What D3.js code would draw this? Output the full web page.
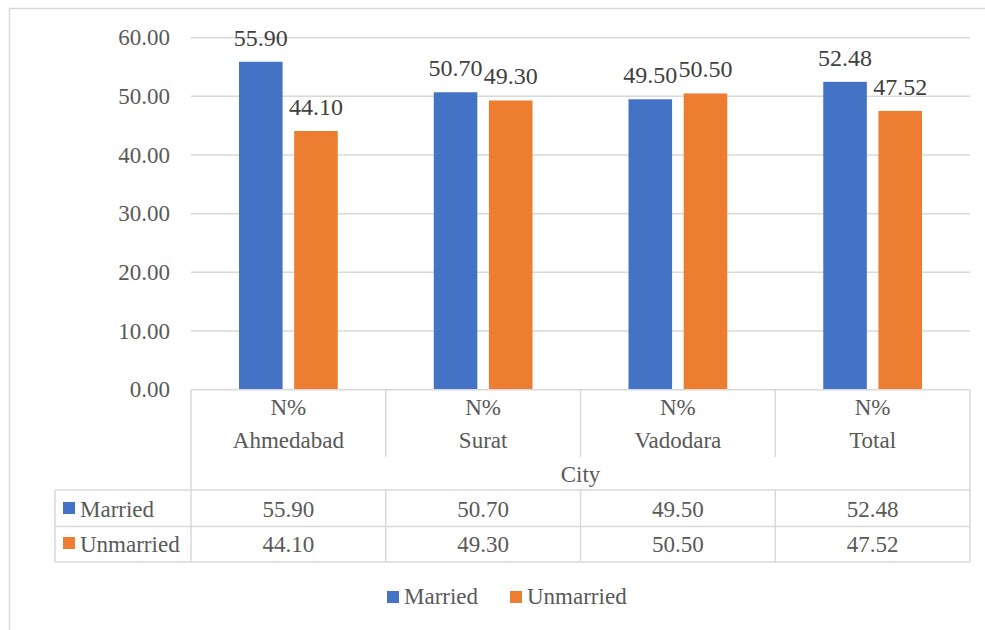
<!DOCTYPE html>
<html><head><meta charset="utf-8"><script src="https://cdn.jsdelivr.net/npm/d3@7"></script></head>
<body style="margin:0">
<script>
// chart data
const cities = ["Ahmedabad", "Surat", "Vadodara", "Total"];
const headerTop = "N%";
const axisTitle = "City";
const seriesNames = ["Married", "Unmarried"];
const married = [55.90, 50.70, 49.50, 52.48];
const unmarried = [44.10, 49.30, 50.50, 47.52];
const yTicks = [0, 10, 20, 30, 40, 50, 60];
const colors = ["#4472C4", "#ED7D31"];

const W = 985, H = 630;
const gridCol = "#d9d9d9", textCol = "#595959", labelCol = "#404040";
const fontFam = "Liberation Serif";

const svg = d3.select("body").append("svg")
    .attr("width", W)
    .attr("height", H)
    .style("display", "block");

// small helper so every label gets the serif face
function label(parent, x, y, str, opts = {}) {
    return parent.append("text")
        .attr("x", x).attr("y", y)
        .attr("font-family", fontFam)
        .style("font-family", fontFam, "important")
        .attr("font-size", opts.size || 23)
        .attr("fill", opts.fill || textCol)
        .attr("text-anchor", opts.anchor || "start")
        .text(str);
}

// chart area border (runs off the right and bottom of the picture)
svg.append("rect")
    .attr("x", 9.5).attr("y", 8.5)
    .attr("width", 1000).attr("height", 700)
    .attr("fill", "none")
    .attr("stroke", gridCol)
    .attr("stroke-width", 1.5);

const plot = {left: 191, right: 970, top: 37.7, bottom: 389.7};

const x0 = d3.scaleBand().domain(cities).range([plot.left, plot.right]);
const groupW = x0.step() * 0.507;
const x1 = d3.scaleBand().domain(seriesNames).range([-groupW / 2, groupW / 2]).paddingInner(0.21);
const y = d3.scaleLinear().domain([0, 60]).range([plot.bottom, plot.top]);

// gridlines
svg.append("g").selectAll("line")
    .data(yTicks.filter(d => d > 0))
    .enter().append("line")
    .attr("x1", plot.left).attr("x2", plot.right)
    .attr("y1", d => y(d)).attr("y2", d => y(d))
    .attr("stroke", gridCol).attr("stroke-width", 1.5);

// y axis labels
yTicks.forEach(d => {
    label(svg, 170, y(d) + 7.6, d.toFixed(2), {anchor: "end"});
});

// bars
const seriesData = [married, unmarried];
seriesNames.forEach((s, si) => {
    const vals = seriesData[si];
    svg.append("g").selectAll("rect")
        .data(cities)
        .enter().append("rect")
        .attr("x", (c) => x0(c) + x0.bandwidth() / 2 + x1(s))
        .attr("y", (c, i) => y(vals[i]))
        .attr("width", x1.bandwidth())
        .attr("height", (c, i) => y(0) - y(vals[i]))
        .attr("fill", colors[si]);

    cities.forEach((c, i) => {
        label(svg, x0(c) + x0.bandwidth() / 2 + x1(s) + x1.bandwidth() / 2, y(vals[i]) - 16,
            vals[i].toFixed(2), {anchor: "middle", size: 24, fill: labelCol});
    });
});

// data table
const tbl = svg.append("g")
    .attr("stroke", gridCol)
    .attr("stroke-width", 1.5);
const rowTop = 490, rowMid = 526.5, rowBot = 562, tblLeft = 55, headerInner = 457;

tbl.append("line").attr("x1", plot.left).attr("x2", plot.right).attr("y1", plot.bottom).attr("y2", plot.bottom);
[rowTop, rowMid, rowBot].forEach(yy => {
    tbl.append("line").attr("x1", tblLeft).attr("x2", plot.right).attr("y1", yy).attr("y2", yy);
});
[plot.left, plot.right].forEach(xx => {
    tbl.append("line").attr("x1", xx).attr("x2", xx).attr("y1", plot.bottom).attr("y2", rowBot);
});
cities.slice(1).forEach(c => {
    tbl.append("line").attr("x1", x0(c)).attr("x2", x0(c)).attr("y1", plot.bottom).attr("y2", headerInner);
    tbl.append("line").attr("x1", x0(c)).attr("x2", x0(c)).attr("y1", rowTop).attr("y2", rowBot);
});
tbl.append("line").attr("x1", tblLeft).attr("x2", tblLeft).attr("y1", rowTop).attr("y2", rowBot);

// header text
cities.forEach(c => {
    const cx = x0(c) + x0.bandwidth() / 2;
    label(svg, cx, 415, headerTop, {anchor: "middle"});
    label(svg, cx, 448, c, {anchor: "middle"});
});
label(svg, (plot.left + plot.right) / 2, 482, axisTitle, {anchor: "middle"});

// table rows
const rowBase = [517, 552];
seriesNames.forEach((s, si) => {
    svg.append("rect")
        .attr("x", 63).attr("y", rowBase[si] - 15)
        .attr("width", 12).attr("height", 12)
        .attr("fill", colors[si]);
    label(svg, 80, rowBase[si], s);
    cities.forEach((c, i) => {
        label(svg, x0(c) + x0.bandwidth() / 2, rowBase[si], seriesData[si][i].toFixed(2), {anchor: "middle"});
    });
});

// legend
const legX = [387, 510];
seriesNames.forEach((s, si) => {
    svg.append("rect")
        .attr("x", legX[si]).attr("y", 591)
        .attr("width", 12).attr("height", 12)
        .attr("fill", colors[si]);
    label(svg, legX[si] + 17, 604, s);
});
</script>
</body>
</html>
